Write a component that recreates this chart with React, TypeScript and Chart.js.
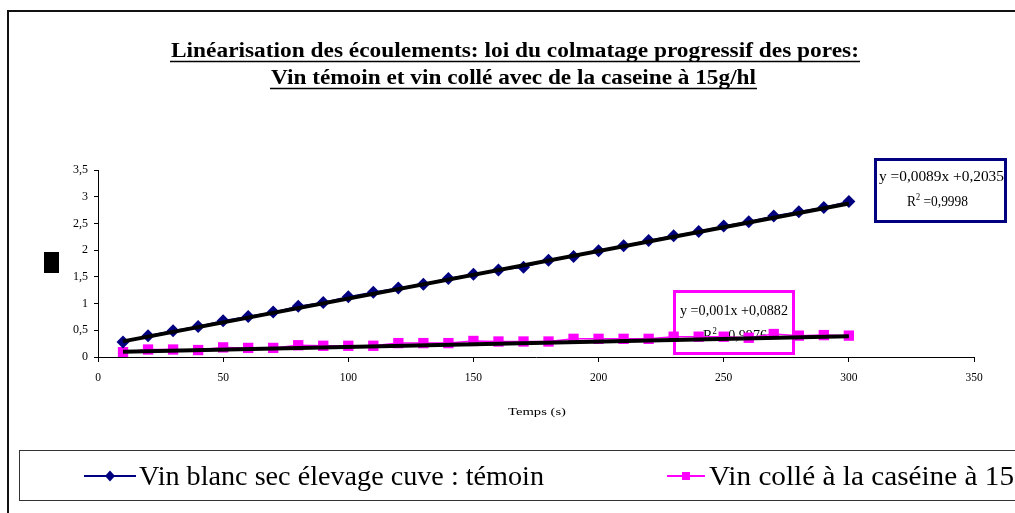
import { useEffect, useRef } from 'react';
import { Chart, registerables } from 'chart.js';

Chart.register(...registerables);

// ---- data ----
const times = [10, 20, 30, 40, 50, 60, 70, 80, 90, 100, 110, 120, 130, 140, 150, 160, 170, 180, 190, 200, 210, 220, 230, 240, 250, 260, 270, 280, 290, 300];
const temoinValues = [0.28, 0.4, 0.49, 0.57, 0.68, 0.76, 0.84, 0.95, 1.02, 1.13, 1.21, 1.29, 1.36, 1.47, 1.55, 1.63, 1.68, 1.81, 1.88, 1.99, 2.08, 2.18, 2.27, 2.35, 2.45, 2.53, 2.64, 2.72, 2.8, 2.91];
const caseineValues = [0.09, 0.14, 0.14, 0.13, 0.18, 0.17, 0.17, 0.22, 0.21, 0.21, 0.21, 0.26, 0.26, 0.26, 0.3, 0.29, 0.29, 0.29, 0.34, 0.34, 0.34, 0.34, 0.38, 0.38, 0.38, 0.36, 0.43, 0.4, 0.41, 0.4];
const trendX = [10, 300];
const temoinTrend = [0.2925, 2.8735];
const caseineTrend = [0.0982, 0.3882];

const titleLines = [
  'Linéarisation des écoulements: loi du colmatage progressif des pores:',
  'Vin témoin et vin collé avec de la caseine à 15g/hl',
];
const legendLabels = ['Vin blanc sec élevage cuve : témoin', 'Vin collé à la caséine à 15g/hl'];
const temoinEquation = ['y =0,0089x +0,2035', '0,9998'];
const caseineEquation = ['y =0,001x +0,0882', '0,9976'];
const xAxisTitle = 'Temps (s)';

const NAVY = '#000080';
const MAGENTA = '#FF00FF';
const SERIF = "'Liberation Serif', 'Times New Roman', serif";

function fitText(ctx: CanvasRenderingContext2D, text: string, x: number, y: number, w: number, font: string) {
  ctx.font = font;
  const m = ctx.measureText(text).width;
  ctx.save();
  ctx.translate(x, y);
  ctx.scale(w / m, 1);
  ctx.textAlign = 'left';
  ctx.textBaseline = 'alphabetic';
  ctx.fillText(text, 0, 0);
  ctx.restore();
  return w / m;
}

function drawR2(ctx: CanvasRenderingContext2D, value: string, x: number, y: number, w: number, size: number) {
  const big = `${size}px ${SERIF}`;
  const small = `${size * 0.62}px ${SERIF}`;
  ctx.font = big;
  const wR = ctx.measureText('R').width;
  const wRest = ctx.measureText(' =' + value).width;
  ctx.font = small;
  const w2 = ctx.measureText('2').width;
  const total = wR + w2 + wRest;
  const s = w / total;
  ctx.save();
  ctx.translate(x, y);
  ctx.scale(s, 1);
  ctx.textAlign = 'left';
  ctx.textBaseline = 'alphabetic';
  ctx.font = big;
  ctx.fillText('R', 0, 0);
  ctx.font = small;
  ctx.fillText('2', wR, -size * 0.42);
  ctx.font = big;
  ctx.fillText(' =' + value, wR + w2, 0);
  ctx.restore();
}

const decorations = {
  id: 'decorations',
  beforeDatasetsDraw(chart: any) {
    const ctx: CanvasRenderingContext2D = chart.ctx;
    ctx.save();
    // equation boxes
    ctx.lineWidth = 3;
    ctx.strokeStyle = NAVY;
    ctx.strokeRect(875.5, 159.5, 130, 62);
    ctx.strokeStyle = MAGENTA;
    ctx.strokeRect(674.5, 291.5, 119, 62);
    ctx.fillStyle = '#000';
    fitText(ctx, temoinEquation[0], 879, 181, 125, `15px ${SERIF}`);
    drawR2(ctx, temoinEquation[1], 907, 206, 61, 15);
    fitText(ctx, caseineEquation[0], 680, 315, 108, `15px ${SERIF}`);
    drawR2(ctx, caseineEquation[1], 703, 340, 64, 15);
    ctx.restore();
  },
  afterDraw(chart: any) {
    const ctx: CanvasRenderingContext2D = chart.ctx;
    ctx.save();
    // outer frame
    ctx.strokeStyle = '#111';
    ctx.lineWidth = 2;
    ctx.beginPath();
    ctx.moveTo(8, 513);
    ctx.lineTo(8, 11);
    ctx.lineTo(1015, 11);
    ctx.stroke();

    // title
    ctx.fillStyle = '#000';
    fitText(ctx, titleLines[0], 171, 57, 688, `bold 20px ${SERIF}`);
    fitText(ctx, titleLines[1], 271, 84, 485, `bold 20px ${SERIF}`);
    ctx.lineWidth = 1.5;
    ctx.strokeStyle = '#000';
    ctx.beginPath();
    ctx.moveTo(170, 61.5);
    ctx.lineTo(860, 61.5);
    ctx.moveTo(270, 88.5);
    ctx.lineTo(757, 88.5);
    ctx.stroke();

    // black square (y axis title placeholder)
    ctx.fillRect(44, 252, 15, 21);

    // x axis title
    fitText(ctx, xAxisTitle, 508, 415, 58, `11px ${SERIF}`);

    // legend box
    ctx.lineWidth = 1;
    ctx.strokeStyle = '#333';
    ctx.strokeRect(19.5, 450.5, 1100, 50);
    const ly = 476;
    // entry 1
    ctx.strokeStyle = NAVY;
    ctx.lineWidth = 2;
    ctx.beginPath();
    ctx.moveTo(84, ly);
    ctx.lineTo(136, ly);
    ctx.stroke();
    ctx.fillStyle = NAVY;
    ctx.beginPath();
    ctx.moveTo(110, ly - 5.5);
    ctx.lineTo(115, ly);
    ctx.lineTo(110, ly + 5.5);
    ctx.lineTo(105, ly);
    ctx.closePath();
    ctx.fill();
    ctx.fillStyle = '#000';
    fitText(ctx, legendLabels[0], 139, 485, 405, `28px ${SERIF}`);
    // entry 2
    ctx.strokeStyle = MAGENTA;
    ctx.beginPath();
    ctx.moveTo(667, ly);
    ctx.lineTo(705, ly);
    ctx.stroke();
    ctx.fillStyle = MAGENTA;
    ctx.fillRect(682, ly - 4, 8, 8);
    ctx.fillStyle = '#000';
    ctx.font = `28px ${SERIF}`;
    const visible = legendLabels[1].slice(0, legendLabels[1].indexOf('15') + 2);
    const s2 = 305 / ctx.measureText(visible).width;
    const w2 = ctx.measureText(legendLabels[1]).width * s2;
    fitText(ctx, legendLabels[1], 709, 485, w2, `28px ${SERIF}`);
    ctx.restore();
  },
};

export default function App() {
  const ref = useRef<HTMLCanvasElement | null>(null);
  useEffect(() => {
    if (!ref.current) return;
    const pts = (xs: number[], ys: number[]) => xs.map((x, i) => ({ x, y: ys[i] }));
    const chart = new Chart(ref.current, {
      type: 'line',
      data: {
        datasets: [
          {
            label: legendLabels[0],
            data: pts(times, temoinValues),
            borderColor: NAVY,
            backgroundColor: NAVY,
            borderWidth: 1.5,
            pointStyle: 'rectRot',
            pointRadius: 6.5,
            pointBorderWidth: 0,
            order: 1,
          },
          {
            label: legendLabels[1],
            data: pts(times, caseineValues),
            borderColor: MAGENTA,
            backgroundColor: MAGENTA,
            borderWidth: 1.5,
            pointStyle: 'rect',
            pointRadius: 7.3,
            pointBorderWidth: 0,
            order: 1,
          },
          {
            label: 'trend1',
            data: pts(trendX, temoinTrend),
            borderColor: '#000',
            borderWidth: 4,
            pointRadius: 0,
            order: 0,
          },
          {
            label: 'trend2',
            data: pts(trendX, caseineTrend),
            borderColor: '#000',
            borderWidth: 4,
            pointRadius: 0,
            order: 0,
          },
        ],
      },
      options: {
        responsive: false,
        animation: false,
        layout: { padding: { left: 0, top: 170, right: 41, bottom: 116 } },
        plugins: {
          legend: { display: false },
          title: { display: false },
          tooltip: { enabled: false },
        },
        scales: {
          x: {
            type: 'linear',
            min: 0,
            max: 350,
            ticks: {
              stepSize: 50,
              color: '#000',
              font: { family: SERIF, size: 11.5 },
              padding: 9,
              maxRotation: 0,
            },
            grid: { drawOnChartArea: false, drawTicks: true, tickLength: 5, color: '#000' },
            border: { color: '#000', width: 1 },
            afterFit: (s: any) => {
              s.height = 40;
            },
          },
          y: {
            type: 'linear',
            min: 0,
            max: 3.5,
            ticks: {
              stepSize: 0.5,
              color: '#000',
              font: { family: SERIF, size: 12 },
              padding: 6,
              callback: (v: any) => String(v).replace('.', ','),
            },
            grid: { drawOnChartArea: false, drawTicks: true, tickLength: 4, color: '#000' },
            border: { color: '#000', width: 1 },
            afterFit: (s: any) => {
              s.width = 98;
            },
          },
        },
      },
      plugins: [decorations],
    });
    return () => chart.destroy();
  }, []);
  return (
    <div style={{ position: 'fixed', left: 0, top: 0, width: 1015, height: 513, background: '#fff' }}>
      <canvas ref={ref} width={1015} height={513} style={{ display: 'block' }} />
    </div>
  );
}
